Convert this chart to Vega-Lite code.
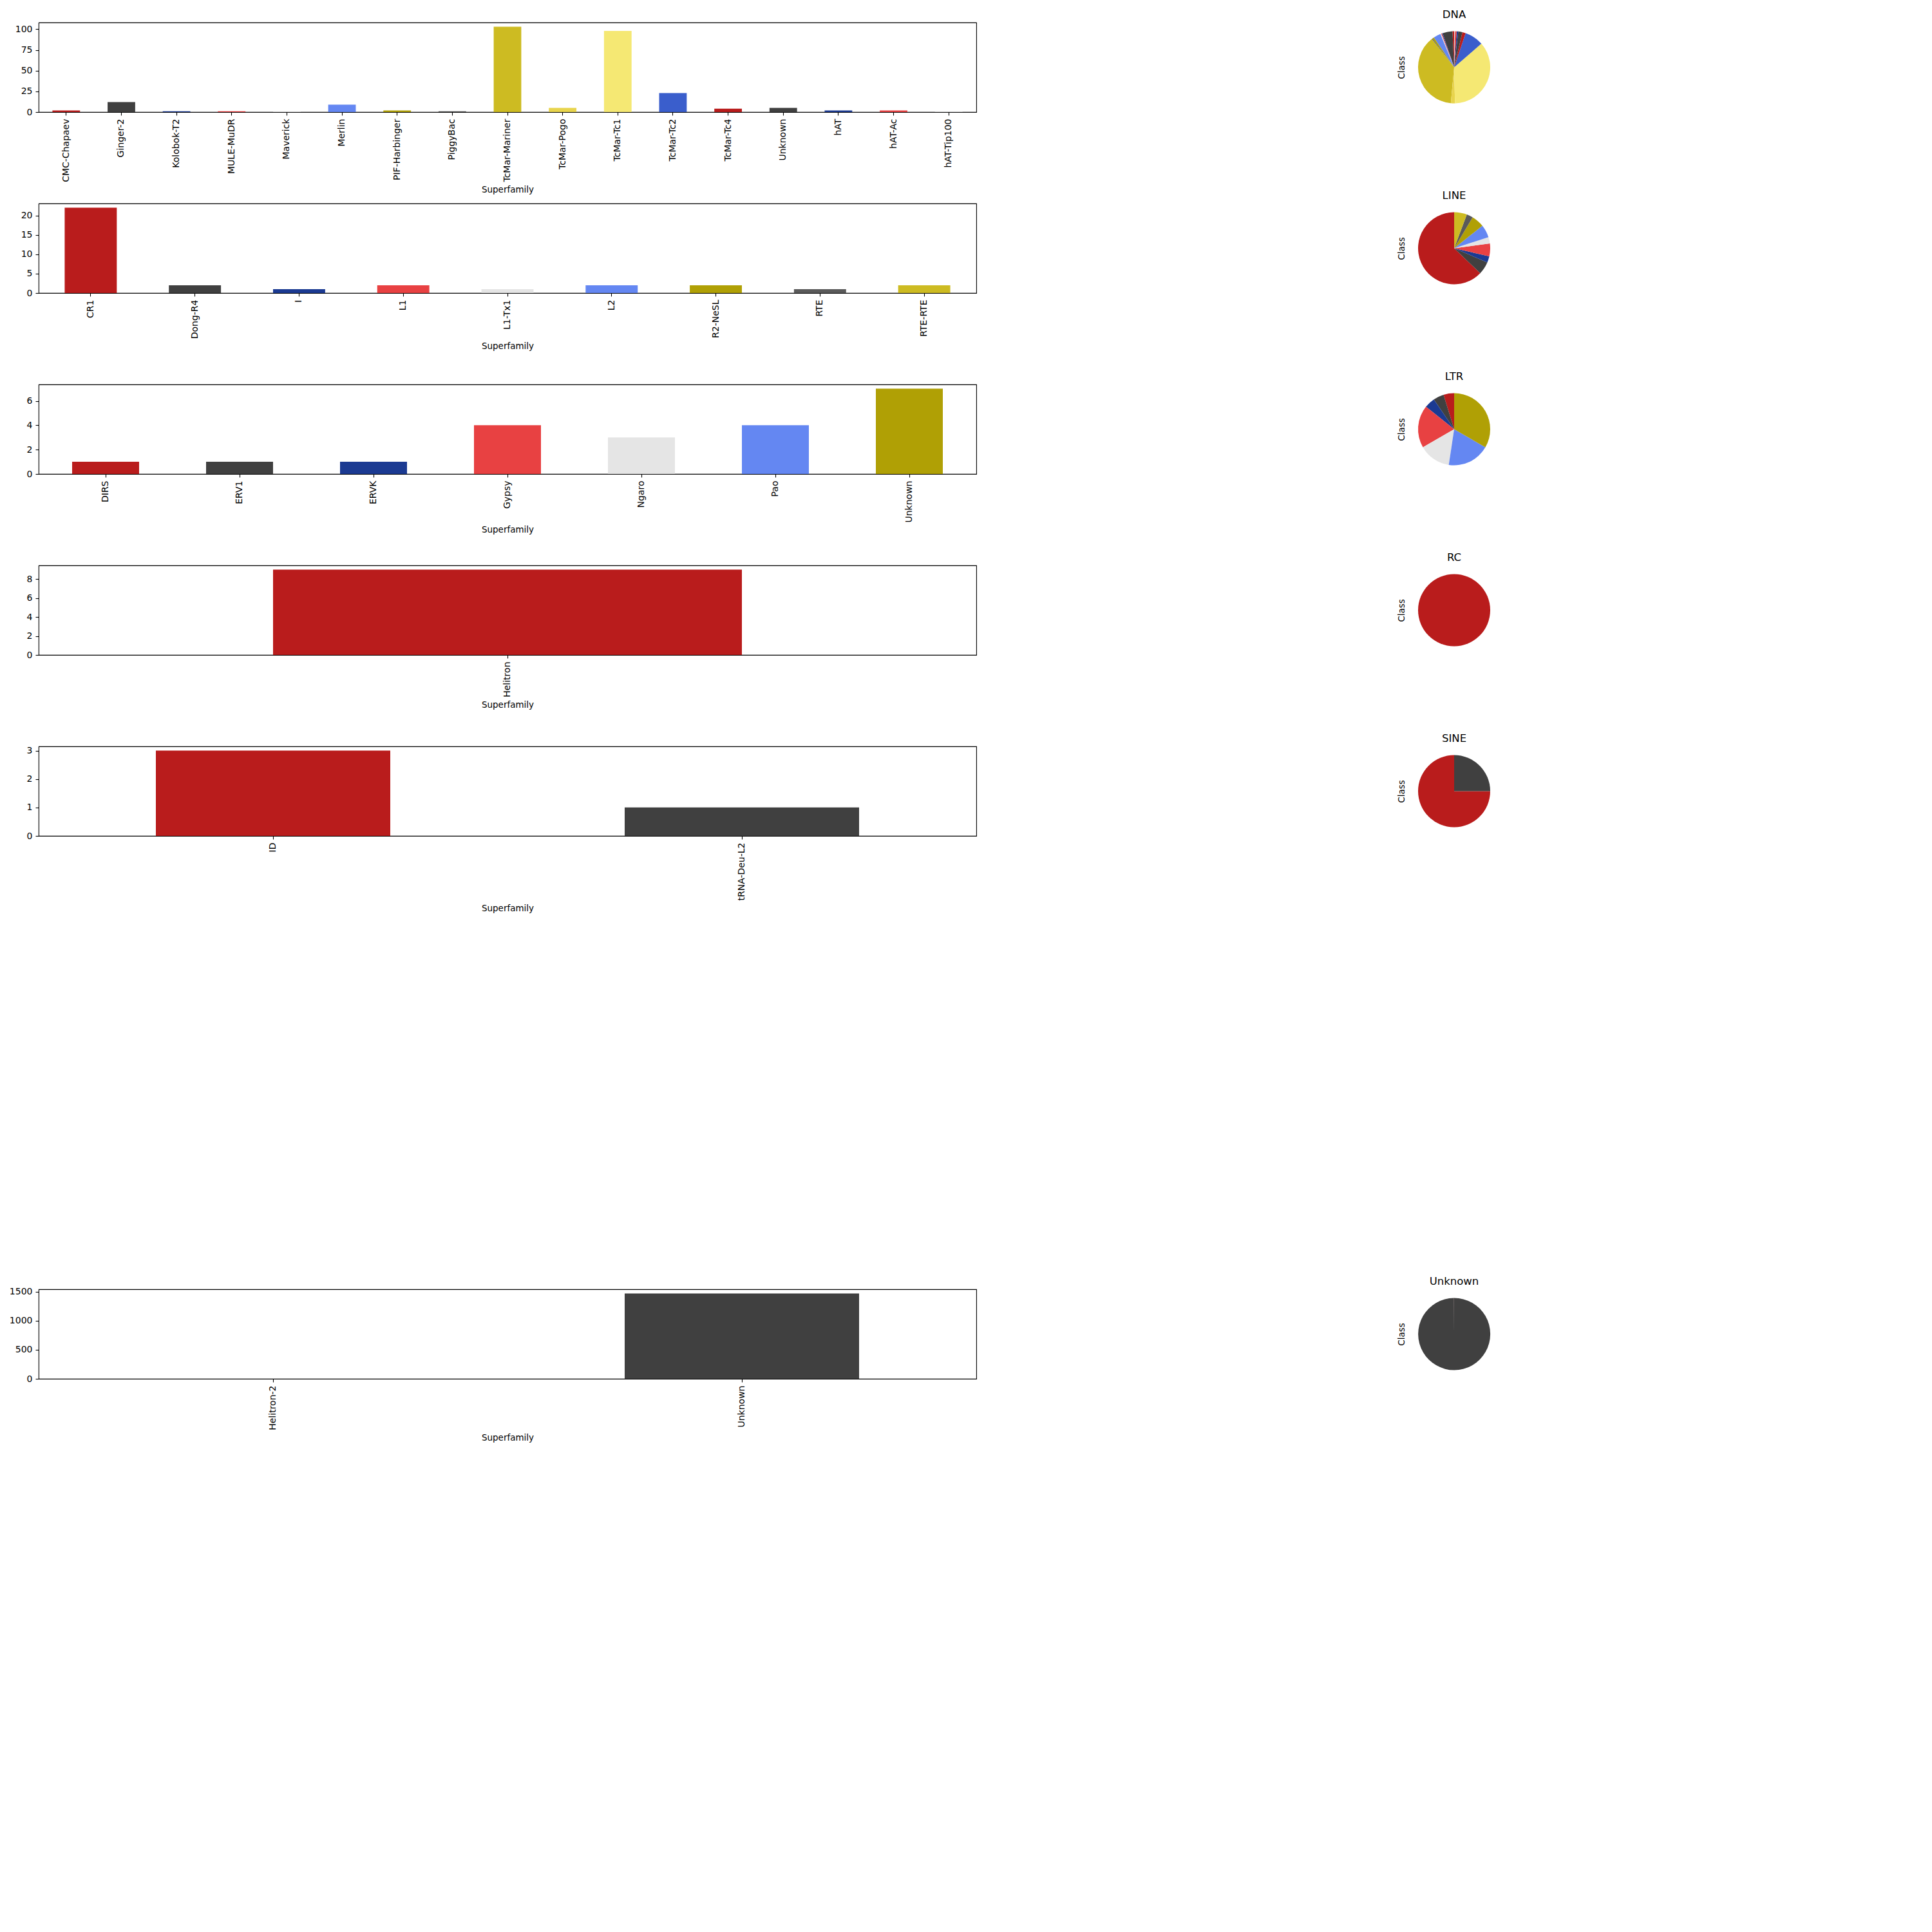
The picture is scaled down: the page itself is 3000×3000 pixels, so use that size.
{
  "$schema": "https://vega.github.io/schema/vega-lite/v6.json",
  "background": "white",
  "padding": {"left": 13, "top": 14, "right": 5, "bottom": 5},
  "data": {"values": [
    {"Class": "DNA", "Superfamily": "CMC-Chapaev", "Count": 2},
    {"Class": "DNA", "Superfamily": "Ginger-2", "Count": 12},
    {"Class": "DNA", "Superfamily": "Kolobok-T2", "Count": 1},
    {"Class": "DNA", "Superfamily": "MULE-MuDR", "Count": 1},
    {"Class": "DNA", "Superfamily": "Maverick", "Count": 1},
    {"Class": "DNA", "Superfamily": "Merlin", "Count": 9},
    {"Class": "DNA", "Superfamily": "PIF-Harbinger", "Count": 2},
    {"Class": "DNA", "Superfamily": "PiggyBac", "Count": 1},
    {"Class": "DNA", "Superfamily": "TcMar-Mariner", "Count": 103},
    {"Class": "DNA", "Superfamily": "TcMar-Pogo", "Count": 5},
    {"Class": "DNA", "Superfamily": "TcMar-Tc1", "Count": 98},
    {"Class": "DNA", "Superfamily": "TcMar-Tc2", "Count": 23},
    {"Class": "DNA", "Superfamily": "TcMar-Tc4", "Count": 4},
    {"Class": "DNA", "Superfamily": "Unknown", "Count": 5},
    {"Class": "DNA", "Superfamily": "hAT", "Count": 2},
    {"Class": "DNA", "Superfamily": "hAT-Ac", "Count": 2},
    {"Class": "DNA", "Superfamily": "hAT-Tip100", "Count": 1},
    {"Class": "LINE", "Superfamily": "CR1", "Count": 22},
    {"Class": "LINE", "Superfamily": "Dong-R4", "Count": 2},
    {"Class": "LINE", "Superfamily": "I", "Count": 1},
    {"Class": "LINE", "Superfamily": "L1", "Count": 2},
    {"Class": "LINE", "Superfamily": "L1-Tx1", "Count": 1},
    {"Class": "LINE", "Superfamily": "L2", "Count": 2},
    {"Class": "LINE", "Superfamily": "R2-NeSL", "Count": 2},
    {"Class": "LINE", "Superfamily": "RTE", "Count": 1},
    {"Class": "LINE", "Superfamily": "RTE-RTE", "Count": 2},
    {"Class": "LTR", "Superfamily": "DIRS", "Count": 1},
    {"Class": "LTR", "Superfamily": "ERV1", "Count": 1},
    {"Class": "LTR", "Superfamily": "ERVK", "Count": 1},
    {"Class": "LTR", "Superfamily": "Gypsy", "Count": 4},
    {"Class": "LTR", "Superfamily": "Ngaro", "Count": 3},
    {"Class": "LTR", "Superfamily": "Pao", "Count": 4},
    {"Class": "LTR", "Superfamily": "Unknown", "Count": 7},
    {"Class": "RC", "Superfamily": "Helitron", "Count": 9},
    {"Class": "SINE", "Superfamily": "ID", "Count": 3},
    {"Class": "SINE", "Superfamily": "tRNA-Deu-L2", "Count": 1},
    {"Class": "Unknown", "Superfamily": "Helitron-2", "Count": 1},
    {"Class": "Unknown", "Superfamily": "Unknown", "Count": 1466}
  ]},
  "columns": 2,
  "bounds": "flush",
  "spacing": {"row": 142, "column": 672},
  "resolve": {"scale": {"x": "independent", "y": "independent", "color": "independent", "theta": "independent"}},
  "concat": [
    {
      "width": 1456, "height": 139,
      "transform": [{"filter": "datum.Class === 'DNA'"}],
      "mark": "bar",
      "encoding": {
        "x": {"field": "Superfamily", "type": "nominal", "sort": null, "scale": {"paddingInner": 0.5, "paddingOuter": 0.25}, "axis": {"title": "Superfamily", "labelAngle": 270, "labelAlign": "right", "labelBaseline": "middle", "labelOverlap": false, "labelLimit": 0}},
        "y": {"field": "Count", "type": "quantitative", "scale": {"domain": [0, 108.15], "nice": false, "zero": true}, "axis": {"title": null, "format": "d", "values": [0, 25, 50, 75, 100]}},
        "color": {"field": "Superfamily", "type": "nominal", "legend": null, "scale": {"domain": ["CMC-Chapaev", "Ginger-2", "Kolobok-T2", "MULE-MuDR", "Maverick", "Merlin", "PIF-Harbinger", "PiggyBac", "TcMar-Mariner", "TcMar-Pogo", "TcMar-Tc1", "TcMar-Tc2", "TcMar-Tc4", "Unknown", "hAT", "hAT-Ac", "hAT-Tip100"], "range": ["#B91C1C", "#404040", "#1B3A92", "#E84142", "#E5E5E5", "#6487F2", "#B0A005", "#5A5A5A", "#CDBB22", "#E8D44D", "#F5E873", "#3A5ECC", "#B91C1C", "#404040", "#1B3A92", "#E84142", "#E5E5E5"]}}
      }
    },
    {
      "width": 140, "height": 139,
      "title": "DNA",
      "view": {"stroke": null},
      "transform": [{"filter": "datum.Class === 'DNA'"}],
      "layer": [
        {"mark": {"type": "arc", "radius": 56},
         "encoding": {
           "theta": {"field": "Count", "type": "quantitative", "stack": true},
           "order": {"field": "Superfamily", "type": "nominal", "sort": "descending"},
           "color": {"field": "Superfamily", "type": "nominal", "legend": null, "scale": {"domain": ["CMC-Chapaev", "Ginger-2", "Kolobok-T2", "MULE-MuDR", "Maverick", "Merlin", "PIF-Harbinger", "PiggyBac", "TcMar-Mariner", "TcMar-Pogo", "TcMar-Tc1", "TcMar-Tc2", "TcMar-Tc4", "Unknown", "hAT", "hAT-Ac", "hAT-Tip100"], "range": ["#B91C1C", "#404040", "#1B3A92", "#E84142", "#E5E5E5", "#6487F2", "#B0A005", "#5A5A5A", "#CDBB22", "#E8D44D", "#F5E873", "#3A5ECC", "#B91C1C", "#404040", "#1B3A92", "#E84142", "#E5E5E5"]}}
         }},
        {"mark": {"type": "point", "opacity": 0},
         "encoding": {"y": {"field": "Class", "type": "nominal", "axis": {"title": "Class", "labels": false, "ticks": false, "domain": false, "grid": false, "titlePadding": 5}}}}
      ]
    },
    {
      "width": 1456, "height": 139,
      "transform": [{"filter": "datum.Class === 'LINE'"}],
      "mark": "bar",
      "encoding": {
        "x": {"field": "Superfamily", "type": "nominal", "sort": null, "scale": {"paddingInner": 0.5, "paddingOuter": 0.25}, "axis": {"title": "Superfamily", "labelAngle": 270, "labelAlign": "right", "labelBaseline": "middle", "labelOverlap": false, "labelLimit": 0}},
        "y": {"field": "Count", "type": "quantitative", "scale": {"domain": [0, 23.1], "nice": false, "zero": true}, "axis": {"title": null, "format": "d", "values": [0, 5, 10, 15, 20]}},
        "color": {"field": "Superfamily", "type": "nominal", "legend": null, "scale": {"domain": ["CR1", "Dong-R4", "I", "L1", "L1-Tx1", "L2", "R2-NeSL", "RTE", "RTE-RTE"], "range": ["#B91C1C", "#404040", "#1B3A92", "#E84142", "#E5E5E5", "#6487F2", "#B0A005", "#5A5A5A", "#CDBB22"]}}
      }
    },
    {
      "width": 140, "height": 139,
      "title": "LINE",
      "view": {"stroke": null},
      "transform": [{"filter": "datum.Class === 'LINE'"}],
      "layer": [
        {"mark": {"type": "arc", "radius": 56},
         "encoding": {
           "theta": {"field": "Count", "type": "quantitative", "stack": true},
           "order": {"field": "Superfamily", "type": "nominal", "sort": "descending"},
           "color": {"field": "Superfamily", "type": "nominal", "legend": null, "scale": {"domain": ["CR1", "Dong-R4", "I", "L1", "L1-Tx1", "L2", "R2-NeSL", "RTE", "RTE-RTE"], "range": ["#B91C1C", "#404040", "#1B3A92", "#E84142", "#E5E5E5", "#6487F2", "#B0A005", "#5A5A5A", "#CDBB22"]}}
         }},
        {"mark": {"type": "point", "opacity": 0},
         "encoding": {"y": {"field": "Class", "type": "nominal", "axis": {"title": "Class", "labels": false, "ticks": false, "domain": false, "grid": false, "titlePadding": 5}}}}
      ]
    },
    {
      "width": 1456, "height": 139,
      "transform": [{"filter": "datum.Class === 'LTR'"}],
      "mark": "bar",
      "encoding": {
        "x": {"field": "Superfamily", "type": "nominal", "sort": null, "scale": {"paddingInner": 0.5, "paddingOuter": 0.25}, "axis": {"title": "Superfamily", "labelAngle": 270, "labelAlign": "right", "labelBaseline": "middle", "labelOverlap": false, "labelLimit": 0}},
        "y": {"field": "Count", "type": "quantitative", "scale": {"domain": [0, 7.35], "nice": false, "zero": true}, "axis": {"title": null, "format": "d", "values": [0, 2, 4, 6]}},
        "color": {"field": "Superfamily", "type": "nominal", "legend": null, "scale": {"domain": ["DIRS", "ERV1", "ERVK", "Gypsy", "Ngaro", "Pao", "Unknown"], "range": ["#B91C1C", "#404040", "#1B3A92", "#E84142", "#E5E5E5", "#6487F2", "#B0A005"]}}
      }
    },
    {
      "width": 140, "height": 139,
      "title": "LTR",
      "view": {"stroke": null},
      "transform": [{"filter": "datum.Class === 'LTR'"}],
      "layer": [
        {"mark": {"type": "arc", "radius": 56},
         "encoding": {
           "theta": {"field": "Count", "type": "quantitative", "stack": true},
           "order": {"field": "Superfamily", "type": "nominal", "sort": "descending"},
           "color": {"field": "Superfamily", "type": "nominal", "legend": null, "scale": {"domain": ["DIRS", "ERV1", "ERVK", "Gypsy", "Ngaro", "Pao", "Unknown"], "range": ["#B91C1C", "#404040", "#1B3A92", "#E84142", "#E5E5E5", "#6487F2", "#B0A005"]}}
         }},
        {"mark": {"type": "point", "opacity": 0},
         "encoding": {"y": {"field": "Class", "type": "nominal", "axis": {"title": "Class", "labels": false, "ticks": false, "domain": false, "grid": false, "titlePadding": 5}}}}
      ]
    },
    {
      "width": 1456, "height": 139,
      "transform": [{"filter": "datum.Class === 'RC'"}],
      "mark": "bar",
      "encoding": {
        "x": {"field": "Superfamily", "type": "nominal", "sort": null, "scale": {"paddingInner": 0.5, "paddingOuter": 0.25}, "axis": {"title": "Superfamily", "labelAngle": 270, "labelAlign": "right", "labelBaseline": "middle", "labelOverlap": false, "labelLimit": 0}},
        "y": {"field": "Count", "type": "quantitative", "scale": {"domain": [0, 9.45], "nice": false, "zero": true}, "axis": {"title": null, "format": "d", "values": [0, 2, 4, 6, 8]}},
        "color": {"field": "Superfamily", "type": "nominal", "legend": null, "scale": {"domain": ["Helitron"], "range": ["#B91C1C"]}}
      }
    },
    {
      "width": 140, "height": 139,
      "title": "RC",
      "view": {"stroke": null},
      "transform": [{"filter": "datum.Class === 'RC'"}],
      "layer": [
        {"mark": {"type": "arc", "radius": 56},
         "encoding": {
           "theta": {"field": "Count", "type": "quantitative", "stack": true},
           "order": {"field": "Superfamily", "type": "nominal", "sort": "descending"},
           "color": {"field": "Superfamily", "type": "nominal", "legend": null, "scale": {"domain": ["Helitron"], "range": ["#B91C1C"]}}
         }},
        {"mark": {"type": "point", "opacity": 0},
         "encoding": {"y": {"field": "Class", "type": "nominal", "axis": {"title": "Class", "labels": false, "ticks": false, "domain": false, "grid": false, "titlePadding": 5}}}}
      ]
    },
    {
      "width": 1456, "height": 139,
      "transform": [{"filter": "datum.Class === 'SINE'"}],
      "mark": "bar",
      "encoding": {
        "x": {"field": "Superfamily", "type": "nominal", "sort": null, "scale": {"paddingInner": 0.5, "paddingOuter": 0.25}, "axis": {"title": "Superfamily", "labelAngle": 270, "labelAlign": "right", "labelBaseline": "middle", "labelOverlap": false, "labelLimit": 0}},
        "y": {"field": "Count", "type": "quantitative", "scale": {"domain": [0, 3.15], "nice": false, "zero": true}, "axis": {"title": null, "format": "d", "values": [0, 1, 2, 3]}},
        "color": {"field": "Superfamily", "type": "nominal", "legend": null, "scale": {"domain": ["ID", "tRNA-Deu-L2"], "range": ["#B91C1C", "#404040"]}}
      }
    },
    {
      "width": 140, "height": 139,
      "title": "SINE",
      "view": {"stroke": null},
      "transform": [{"filter": "datum.Class === 'SINE'"}],
      "layer": [
        {"mark": {"type": "arc", "radius": 56},
         "encoding": {
           "theta": {"field": "Count", "type": "quantitative", "stack": true},
           "order": {"field": "Superfamily", "type": "nominal", "sort": "descending"},
           "color": {"field": "Superfamily", "type": "nominal", "legend": null, "scale": {"domain": ["ID", "tRNA-Deu-L2"], "range": ["#B91C1C", "#404040"]}}
         }},
        {"mark": {"type": "point", "opacity": 0},
         "encoding": {"y": {"field": "Class", "type": "nominal", "axis": {"title": "Class", "labels": false, "ticks": false, "domain": false, "grid": false, "titlePadding": 5}}}}
      ]
    },
    {"width": 1456, "height": 139, "view": {"stroke": null}, "transform": [{"filter": "false"}], "mark": "point", "encoding": {}},
    {"width": 140, "height": 139, "view": {"stroke": null}, "transform": [{"filter": "false"}], "mark": "point", "encoding": {}},
    {"width": 1456, "height": 139, "view": {"stroke": null}, "transform": [{"filter": "false"}], "mark": "point", "encoding": {}},
    {"width": 140, "height": 139, "view": {"stroke": null}, "transform": [{"filter": "false"}], "mark": "point", "encoding": {}},
    {
      "width": 1456, "height": 139,
      "transform": [{"filter": "datum.Class === 'Unknown'"}],
      "mark": "bar",
      "encoding": {
        "x": {"field": "Superfamily", "type": "nominal", "sort": null, "scale": {"paddingInner": 0.5, "paddingOuter": 0.25}, "axis": {"title": "Superfamily", "labelAngle": 270, "labelAlign": "right", "labelBaseline": "middle", "labelOverlap": false, "labelLimit": 0}},
        "y": {"field": "Count", "type": "quantitative", "scale": {"domain": [0, 1539.3], "nice": false, "zero": true}, "axis": {"title": null, "format": "d", "values": [0, 500, 1000, 1500]}},
        "color": {"field": "Superfamily", "type": "nominal", "legend": null, "scale": {"domain": ["Helitron-2", "Unknown"], "range": ["#B91C1C", "#404040"]}}
      }
    },
    {
      "width": 140, "height": 139,
      "title": "Unknown",
      "view": {"stroke": null},
      "transform": [{"filter": "datum.Class === 'Unknown'"}],
      "layer": [
        {"mark": {"type": "arc", "radius": 56},
         "encoding": {
           "theta": {"field": "Count", "type": "quantitative", "stack": true},
           "order": {"field": "Superfamily", "type": "nominal", "sort": "descending"},
           "color": {"field": "Superfamily", "type": "nominal", "legend": null, "scale": {"domain": ["Helitron-2", "Unknown"], "range": ["#B91C1C", "#404040"]}}
         }},
        {"mark": {"type": "point", "opacity": 0},
         "encoding": {"y": {"field": "Class", "type": "nominal", "axis": {"title": "Class", "labels": false, "ticks": false, "domain": false, "grid": false, "titlePadding": 5}}}}
      ]
    }
  ],
  "config": {
    "font": "DejaVu Sans",
    "view": {"stroke": "black", "strokeWidth": 1.1},
    "axis": {"labelFont": "DejaVu Sans", "labelFontSize": 14, "labelColor": "black", "tickColor": "black", "tickSize": 5, "tickWidth": 1.1, "labelPadding": 5, "domain": false, "grid": false, "titleFont": "DejaVu Sans", "titleFontSize": 13.5, "titleFontWeight": "normal", "titleColor": "black", "titlePadding": 5},
    "title": {"font": "DejaVu Sans", "fontSize": 16.5, "fontWeight": "normal", "color": "black", "offset": 4, "anchor": "middle"}
  }
}
